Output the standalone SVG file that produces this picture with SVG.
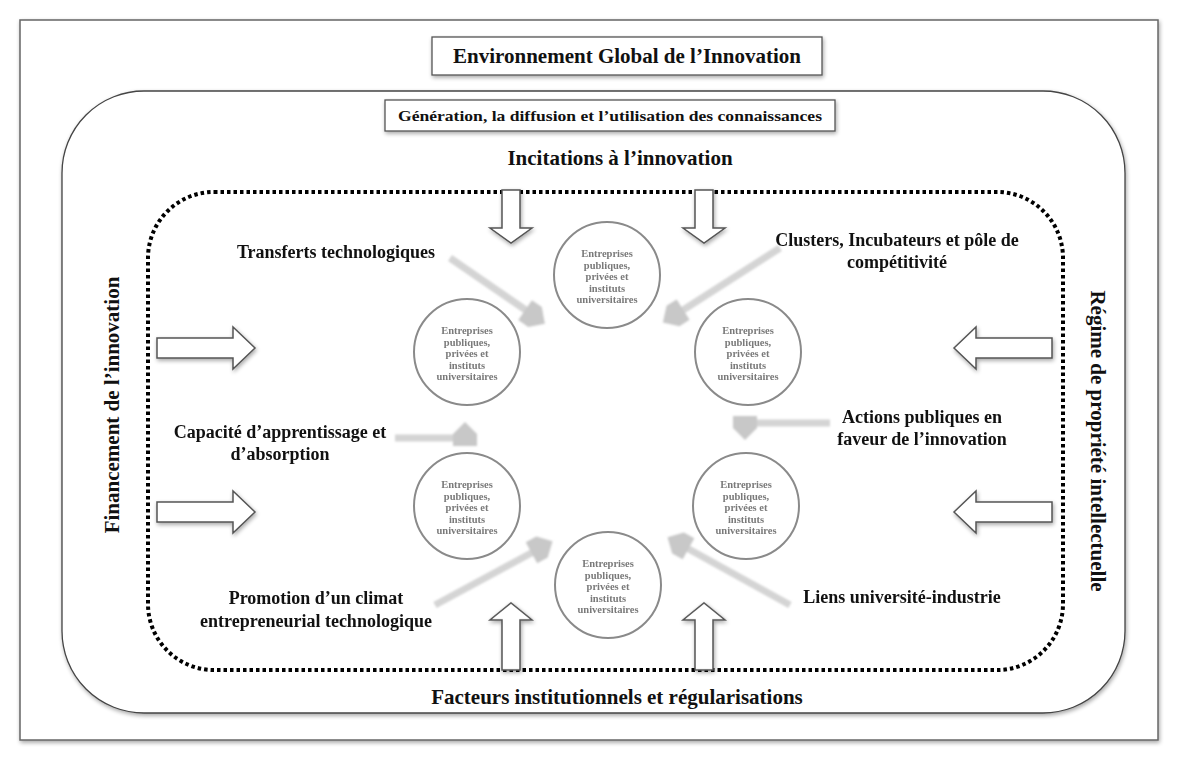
<svg xmlns="http://www.w3.org/2000/svg" width="1180" height="768" viewBox="0 0 1180 768">
<defs>
<filter id="sh" x="-10%" y="-10%" width="120%" height="130%">
<feGaussianBlur in="SourceAlpha" stdDeviation="2"/>
<feOffset dx="1" dy="2" result="b"/>
<feComponentTransfer><feFuncA type="linear" slope="0.35"/></feComponentTransfer>
<feMerge><feMergeNode/><feMergeNode in="SourceGraphic"/></feMerge>
</filter>
<filter id="soft" x="-20%" y="-20%" width="140%" height="140%">
<feGaussianBlur stdDeviation="0.8"/>
</filter>
<polygon id="head" points="-12,-12 0,-12 12,0 0,12 -12,12"/>
<path id="blk" d="M0,-10 L76,-10 L76,-21 L98,0 L76,21 L76,10 L0,10 Z"/>
<path id="blkv" d="M-9,0 L-9,38 L-21,38 L0,53 L21,38 L9,38 L9,0 Z"/>
<path id="blku" d="M-9,0 L-9,50 L-21,50 L0,67 L21,50 L9,50 L9,0 Z"/>
</defs>
<style>
.t{font-family:"Liberation Serif","Times New Roman",serif;font-weight:bold;fill:#111}
.lbl{font-size:18px;text-anchor:middle}
.big{font-size:21px;text-anchor:middle}
.node circle{fill:#fff;stroke:#8a8a8a;stroke-width:2}
.node text{font-family:"Liberation Serif","Times New Roman",serif;font-weight:bold;font-size:10.5px;fill:#7a7a7a;text-anchor:middle}
.gl{stroke:#d4d4d4;stroke-width:7;fill:none}
.gh{fill:#c8c8c8}
.ba{fill:#fff;stroke:#555;stroke-width:1.5}
</style>
<rect x="0" y="0" width="1180" height="768" fill="#fff"/>
<g id="frame"><rect x="20" y="20" width="1138" height="720" fill="#fff" stroke="#666" stroke-width="1.5" filter="url(#sh)"/></g>
<g id="env-title"><rect x="432" y="37" width="390" height="38" fill="#fff" stroke="#555" stroke-width="1.3" filter="url(#sh)"/>
<text class="t big" x="627" y="63">Environnement Global de l’Innovation</text></g>
<g id="rounded-area"><rect x="62" y="91" width="1063" height="622" rx="82" ry="82" fill="#fff" stroke="#444" stroke-width="1.3" filter="url(#sh)"/></g>
<g id="gen-box"><rect x="385" y="100" width="450" height="31" fill="#fff" stroke="#555" stroke-width="1.3" filter="url(#sh)"/>
<text class="t" x="610" y="121" font-size="15" text-anchor="middle" textLength="424" lengthAdjust="spacingAndGlyphs">Génération, la diffusion et l’utilisation des connaissances</text></g>
<text class="t big" x="620" y="165" font-size="22">Incitations à l’innovation</text>
<text class="t big" x="617" y="704" font-size="19">Facteurs institutionnels et régularisations</text>
<text class="t big" transform="translate(119,405) rotate(-90)">Financement de l’innovation</text>
<text class="t big" transform="translate(1091,441) rotate(90)">Régime de propriété intellectuelle</text>
<g id="dotted-area"><rect x="148" y="192" width="915" height="478" rx="66" ry="66" fill="none" stroke="#000" stroke-width="4" stroke-dasharray="3.5 3"/></g>
<g id="block-arrows" class="ba" filter="url(#sh)">
<use href="#blk" transform="translate(157,348)"/>
<use href="#blk" transform="translate(157,512)"/>
<use href="#blk" transform="translate(1052,348) scale(-1,1)"/>
<use href="#blk" transform="translate(1052,512) scale(-1,1)"/>
<use href="#blkv" transform="translate(511,190)"/>
<use href="#blkv" transform="translate(704,190)"/>
<use href="#blku" transform="translate(511,670) scale(1,-1)"/>
<use href="#blku" transform="translate(704,670) scale(1,-1)"/>
</g>
<g id="nodes">
<g id="n-top" class="node"><circle cx="607" cy="275" r="53"/><text x="607" y="257">Entreprises</text><text x="607" y="268.5">publiques,</text><text x="607" y="280">privées et</text><text x="607" y="291.5">instituts</text><text x="607" y="303">universitaires</text></g>
<g id="n-ur" class="node"><circle cx="748" cy="352" r="53"/><text x="748" y="334">Entreprises</text><text x="748" y="345.5">publiques,</text><text x="748" y="357">privées et</text><text x="748" y="368.5">instituts</text><text x="748" y="380">universitaires</text></g>
<g id="n-lr" class="node"><circle cx="746" cy="506" r="53"/><text x="746" y="488">Entreprises</text><text x="746" y="499.5">publiques,</text><text x="746" y="511">privées et</text><text x="746" y="522.5">instituts</text><text x="746" y="534">universitaires</text></g>
<g id="n-bot" class="node"><circle cx="608" cy="585" r="53"/><text x="608" y="567">Entreprises</text><text x="608" y="578.5">publiques,</text><text x="608" y="590">privées et</text><text x="608" y="601.5">instituts</text><text x="608" y="613">universitaires</text></g>
<g id="n-ll" class="node"><circle cx="467" cy="506" r="53"/><text x="467" y="488">Entreprises</text><text x="467" y="499.5">publiques,</text><text x="467" y="511">privées et</text><text x="467" y="522.5">instituts</text><text x="467" y="534">universitaires</text></g>
<g id="n-ul" class="node"><circle cx="467" cy="352" r="53"/><text x="467" y="334">Entreprises</text><text x="467" y="345.5">publiques,</text><text x="467" y="357">privées et</text><text x="467" y="368.5">instituts</text><text x="467" y="380">universitaires</text></g>
</g>
<g id="connectors" filter="url(#soft)">
<line class="gl" x1="450" y1="258" x2="530" y2="313"/>
<use href="#head" class="gh" transform="translate(535,317) rotate(34.6)"/>
<line class="gl" x1="780" y1="248" x2="680" y2="312"/>
<use href="#head" class="gh" transform="translate(673,316) rotate(147.6)"/>
<line class="gl" x1="830" y1="423" x2="752" y2="423"/>
<use href="#head" class="gh" transform="translate(745,428) rotate(90)"/>
<line class="gl" x1="790" y1="605" x2="685" y2="547"/>
<use href="#head" class="gh" transform="translate(678,543) rotate(209)"/>
<line class="gl" x1="435" y1="605" x2="535" y2="551"/>
<use href="#head" class="gh" transform="translate(542,547) rotate(-28.5)"/>
<line class="gl" x1="395" y1="438" x2="458" y2="438"/>
<use href="#head" class="gh" transform="translate(465,434) rotate(-90)"/>
</g>
<g id="labels">
<text class="t lbl" x="336" y="258">Transferts technologiques</text>
<text class="t lbl" x="897" y="246">Clusters, Incubateurs et pôle de</text>
<text class="t lbl" x="897" y="268">compétitivité</text>
<text class="t lbl" x="922" y="423">Actions publiques en</text>
<text class="t lbl" x="922" y="445">faveur de l’innovation</text>
<text class="t lbl" x="902" y="603">Liens université-industrie</text>
<text class="t lbl" x="316" y="604">Promotion d’un climat</text>
<text class="t lbl" x="316" y="627">entrepreneurial technologique</text>
<text class="t lbl" x="280" y="438">Capacité d’apprentissage et</text>
<text class="t lbl" x="280" y="460">d’absorption</text>
</g>
</svg>
